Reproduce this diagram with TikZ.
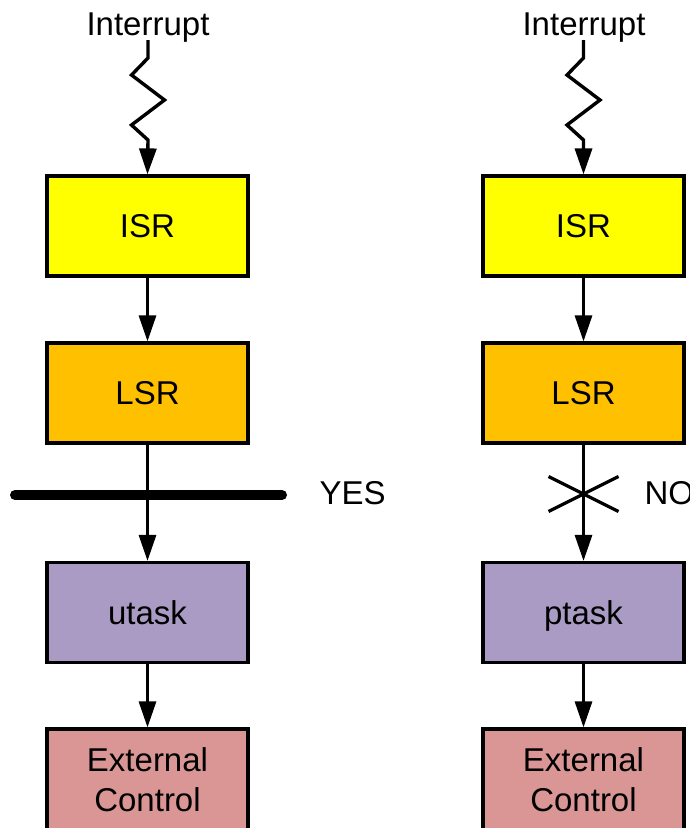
\documentclass[tikz,border=0pt]{standalone}
\usepackage{fontspec}
\setmainfont{Liberation Sans}
\usetikzlibrary{arrows.meta}

\definecolor{isrfill}{HTML}{FFFF00}
\definecolor{lsrfill}{HTML}{FFC000}
\definecolor{taskfill}{HTML}{AA9BC4}
\definecolor{extfill}{HTML}{D99694}

\begin{document}
\begin{tikzpicture}[x=1pt,y=-1pt,
  lbl/.style={font=\fontsize{33}{40}\selectfont},
  block/.style={lbl,draw=black,line width=3.2pt,minimum width=201pt,minimum height=100pt,
    inner sep=0pt,text height=23.5pt,text depth=0pt},
  twoline/.style={lbl,draw=black,line width=3.2pt,minimum width=201pt,minimum height=101pt,
    inner sep=0pt,align=center},
  flow/.style={line width=3pt,-{Triangle[length=26pt,width=17pt]}},
  zig/.style={line width=3.4pt,miter limit=10,-{Triangle[length=26pt,width=17pt]}},
  bar/.style={line width=10pt,line cap=round},
  cross/.style={line width=3.2pt}
]
\clip (0,0) rectangle (689,828);

% ---- left column: utask path ----
\node[lbl,anchor=base] (intL) at (148,35) {Interrupt};
\coordinate (zL) at (148,40);
\node[block,fill=isrfill] (isrL) at (147.5,226) {ISR};
\node[block,fill=lsrfill] (lsrL) at (147.5,393) {LSR};
\node[block,fill=taskfill] (taskL) at (147.5,612.5) {utask};
\node[twoline,fill=extfill] (extL) at (147.5,779.5) {External\\Control};

\draw[zig] (zL) -- ++(0,18) -- ++(-16.5,17) -- ++(33,25) -- ++(-33,25) -- ++(16.5,15) -- (isrL.north);
\draw[flow] (isrL) -- (lsrL);
\coordinate (barA) at (15,495);
\coordinate (barB) at (282,495);
\draw[bar] (barA) -- (barB);
\node[lbl,anchor=base west] (yes) at (316,504) {YES};
\draw[flow] (lsrL) -- (taskL);
\draw[flow] (taskL) -- (extL);

% ---- right column: ptask path ----
\node[lbl,anchor=base] (intR) at (584,35) {Interrupt};
\coordinate (zR) at (583.5,40);
\node[block,fill=isrfill] (isrR) at (583.5,226) {ISR};
\node[block,fill=lsrfill] (lsrR) at (583.5,393) {LSR};
\node[block,fill=taskfill] (taskR) at (583.5,612.5) {ptask};
\node[twoline,fill=extfill] (extR) at (583.5,779.5) {External\\Control};

\draw[zig] (zR) -- ++(0,18) -- ++(-16.5,17) -- ++(33,25) -- ++(-33,25) -- ++(16.5,15) -- (isrR.north);
\draw[flow] (isrR) -- (lsrR);
\draw[flow] (lsrR) -- (taskR);
\coordinate (xA) at (548.5,476.5);
\coordinate (xB) at (618.5,511.5);
\coordinate (xC) at (548.5,511.5);
\coordinate (xD) at (618.5,476.5);
\draw[cross] (xA) -- (xB);
\draw[cross] (xC) -- (xD);
\node[lbl,anchor=base west] (no) at (641,504) {NO};
\draw[flow] (taskR) -- (extR);
\end{tikzpicture}
\end{document}
